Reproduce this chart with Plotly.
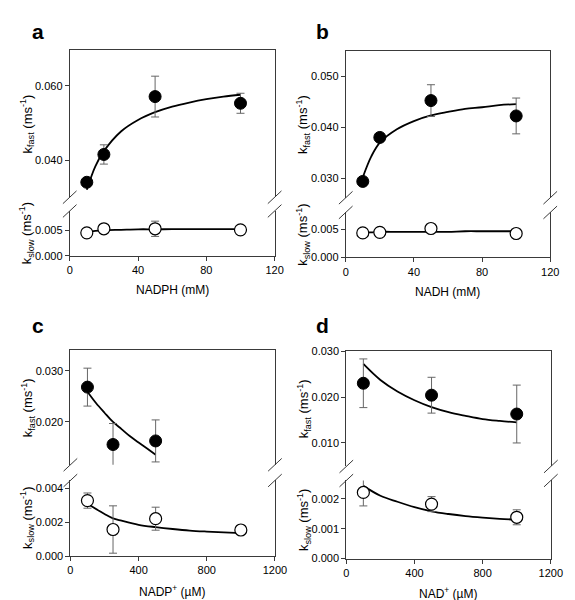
import plotly.graph_objects as go

W, H = 575, 600

# ---------------- data ----------------
# Panel a: NADPH (mM)
a_x = [10, 20, 50, 100]
a_fast = [0.0340, 0.0415, 0.0571, 0.0553]
a_fast_err = [0.0000, 0.0026, 0.0055, 0.0027]
a_slow = [0.0045, 0.0053, 0.0053, 0.0051]
a_slow_err = [0.0000, 0.0000, 0.0015, 0.0000]
a_fit_x = [10, 15, 20, 30, 40, 50, 60, 70, 80, 90, 100]
a_fit_fast = [0.0320, 0.0383, 0.0424, 0.0477, 0.0508, 0.0529, 0.0544, 0.0555, 0.0564, 0.0571, 0.0576]
a_fit_slow = [0.0047, 0.0049, 0.0050, 0.0051, 0.0052, 0.0052, 0.00522, 0.00523, 0.00524, 0.00525, 0.00525]

# Panel b: NADH (mM)
b_x = [10, 20, 50, 100]
b_fast = [0.0294, 0.0380, 0.0452, 0.0422]
b_fast_err = [0.0000, 0.0008, 0.0031, 0.0035]
b_slow = [0.0044, 0.0045, 0.0052, 0.0043]
b_slow_err = [0.0, 0.0, 0.0, 0.0]
b_fit_x = [10, 15, 20, 30, 40, 50, 60, 70, 80, 90, 100]
b_fit_fast = [0.0302, 0.0343, 0.0370, 0.0396, 0.0412, 0.0423, 0.0430, 0.0436, 0.0439, 0.0443, 0.0445]
b_fit_slow = [0.0045, 0.0045, 0.0046, 0.0046, 0.0046, 0.0046, 0.0046, 0.0047, 0.0047, 0.0047, 0.0047]

# Panel c: NADP+ (uM)
c_x_fast = [100, 250, 500]
c_fast = [0.0268, 0.0156, 0.0163]
c_fast_err = [0.0037, 0.0041, 0.0041]
c_x_slow = [100, 250, 500, 1000]
c_slow = [0.00329, 0.00158, 0.00222, 0.00155]
c_slow_err = [0.00045, 0.00140, 0.00068, 0.00028]
c_fit_x_fast = [100, 150, 200, 250, 300, 350, 400, 450, 500]
c_fit_fast = [0.0259, 0.0237, 0.0218, 0.0200, 0.0186, 0.0172, 0.0160, 0.0148, 0.0136]
c_fit_x_slow = [100, 200, 250, 300, 400, 500, 600, 700, 800, 900, 1000]
c_fit_slow = [0.00310, 0.00250, 0.00224, 0.00210, 0.00186, 0.00172, 0.00161, 0.00152, 0.00146, 0.00141, 0.00137]

# Panel d: NAD+ (uM)
d_x = [100, 500, 1000]
d_fast = [0.0230, 0.0204, 0.0163]
d_fast_err = [0.0053, 0.0039, 0.0063]
d_slow = [0.00221, 0.00182, 0.00138]
d_slow_err = [0.00045, 0.00025, 0.00025]
d_fit_x = [100, 200, 300, 400, 500, 600, 700, 800, 900, 1000]
d_fit_fast = [0.0272, 0.0237, 0.0212, 0.0193, 0.0178, 0.0167, 0.0159, 0.0152, 0.0148, 0.0145]
d_fit_slow = [0.00243, 0.00210, 0.00190, 0.00172, 0.00158, 0.00149, 0.00142, 0.00137, 0.00133, 0.00130]

# ---------------- layout geometry (pixels) ----------------
panels = [
    dict(letter="a", left=60.3, right=270.7, top=36.7, brk1=187.0, brk2=201.0, bottom=246.7,
         up_range=[0.02996, 0.06967], lo_range=[0.0, 0.0088],
         up_ticks=[0.040, 0.060], lo_ticks=[0.000, 0.005], xr=[0, 120], xt=[0, 40, 80, 120],
         xtitle="NADPH (mM)",
         x_fast=a_x, fast=a_fast, fast_err=a_fast_err, x_slow=a_x, slow=a_slow, slow_err=a_slow_err,
         fxf=a_fit_x, ff=a_fit_fast, fxs=a_fit_x, fs=a_fit_slow),
    dict(letter="b", left=343.7, right=553.7, top=37.3, brk1=187.5, brk2=202.5, bottom=248.3,
         up_range=[0.02621, 0.05498], lo_range=[0.0, 0.00809],
         up_ticks=[0.030, 0.040, 0.050], lo_ticks=[0.000, 0.005], xr=[0, 120], xt=[0, 40, 80, 120],
         xtitle="NADH (mM)",
         x_fast=b_x, fast=b_fast, fast_err=b_fast_err, x_slow=b_x, slow=b_slow, slow_err=b_slow_err,
         fxf=b_fit_x, ff=b_fit_fast, fxs=b_fit_x, fs=b_fit_slow),
    dict(letter="c", left=61.0, right=271.0, top=343.3, brk1=460.0, brk2=476.0, bottom=553.3,
         up_range=[0.01164, 0.03396], lo_range=[0.0, 0.00448],
         up_ticks=[0.020, 0.030], lo_ticks=[0.000, 0.002, 0.004], xr=[0, 1200], xt=[0, 400, 800, 1200],
         xtitle="NADP<sup>+</sup> (µM)",
         x_fast=c_x_fast, fast=c_fast, fast_err=c_fast_err, x_slow=c_x_slow, slow=c_slow, slow_err=c_slow_err,
         fxf=c_fit_x_fast, ff=c_fit_fast, fxs=c_fit_x_slow, fs=c_fit_slow),
    dict(letter="d", left=344.3, right=554.3, top=344.0, brk1=461.7, brk2=476.0, bottom=555.7,
         up_range=[0.00488, 0.0300], lo_range=[0.0, 0.00261],
         up_ticks=[0.010, 0.020, 0.030], lo_ticks=[0.000, 0.001, 0.002], xr=[0, 1200], xt=[0, 400, 800, 1200],
         xtitle="NAD<sup>+</sup> (µM)",
         x_fast=d_x, fast=d_fast, fast_err=d_fast_err, x_slow=d_x, slow=d_slow, slow_err=d_slow_err,
         fxf=d_fit_x, ff=d_fit_fast, fxs=d_fit_x, fs=d_fit_slow),
]

def px(x):
    return x / W

def py(y):
    return 1 - y / H

FONT = "Liberation Sans, Arial, sans-serif"
AX = "#3a3a3a"
ERR = "#666666"

fig = go.Figure()
layout = dict(width=W, height=H, margin=dict(l=0, r=0, t=0, b=0),
              paper_bgcolor="white", plot_bgcolor="white", showlegend=False,
              font=dict(family=FONT, size=11, color="black"))
annotations = []
shapes = []

n = 0
for p in panels:
    n += 1
    xu, yu = n, n
    n += 1
    xl, yl = n, n
    xd = [px(p["left"]), px(p["right"])]
    for (xi, yi, dom, rng, ticks, upper) in [
        (xu, yu, [py(p["brk1"]), py(p["top"])], p["up_range"], p["up_ticks"], True),
        (xl, yl, [py(p["bottom"]), py(p["brk2"])], p["lo_range"], p["lo_ticks"], False),
    ]:
        xk = "xaxis" if xi == 1 else f"xaxis{xi}"
        yk = "yaxis" if yi == 1 else f"yaxis{yi}"
        layout[xk] = dict(domain=xd, range=p["xr"], anchor=f"y{yi}" if yi > 1 else "y",
                          showgrid=False, zeroline=False, showline=True, linecolor=AX, linewidth=1,
                          side="top" if upper else "bottom",
                          ticks="" if upper else "outside", ticklen=4, tickcolor=AX,
                          tickvals=[] if upper else p["xt"], showticklabels=not upper,
                          tickfont=dict(size=11, family=FONT, color="black"), fixedrange=True)
        layout[yk] = dict(domain=dom, range=rng, anchor=f"x{xi}" if xi > 1 else "x",
                          showgrid=False, zeroline=False, showline=True, mirror=True,
                          linecolor=AX, linewidth=1, ticks="outside", ticklen=4, tickcolor=AX,
                          tickvals=ticks, tickformat=".3f",
                          tickfont=dict(size=11, family=FONT, color="black"), fixedrange=True)

    xa_u = "x" if xu == 1 else f"x{xu}"
    ya_u = "y" if yu == 1 else f"y{yu}"
    xa_l = f"x{xl}"
    ya_l = f"y{yl}"

    fig.add_trace(go.Scatter(x=p["fxf"], y=p["ff"], mode="lines", line=dict(color="black", width=1.8, shape="spline"),
                             xaxis=xa_u, yaxis=ya_u, hoverinfo="skip"))
    fig.add_trace(go.Scatter(x=p["fxs"], y=p["fs"], mode="lines", line=dict(color="black", width=1.8, shape="spline"),
                             xaxis=xa_l, yaxis=ya_l, hoverinfo="skip"))
    fig.add_trace(go.Scatter(x=p["x_fast"], y=p["fast"], mode="markers",
                             marker=dict(color="black", size=12, line=dict(color="black", width=1)),
                             error_y=dict(type="data", array=p["fast_err"], visible=True, color=ERR, thickness=1, width=4),
                             xaxis=xa_u, yaxis=ya_u))
    fig.add_trace(go.Scatter(x=p["x_slow"], y=p["slow"], mode="markers",
                             marker=dict(color="white", size=12, line=dict(color="black", width=1.2)),
                             error_y=dict(type="data", array=p["slow_err"], visible=True, color=ERR, thickness=1, width=4),
                             xaxis=xa_l, yaxis=ya_l))

    for xe in (p["left"], p["right"]):
        for ye in (p["brk1"], p["brk2"]):
            shapes.append(dict(type="line", xref="paper", yref="paper",
                               x0=px(xe - 7), y0=py(ye + 6.5), x1=px(xe + 7), y1=py(ye - 6.5),
                               line=dict(color=AX, width=1)))

    xt_px = p["left"] - 44
    annotations.append(dict(text="k<sub>fast</sub> (ms<sup>-1</sup>)", x=px(xt_px), y=py((p["top"] + p["brk1"]) / 2),
                            xref="paper", yref="paper", showarrow=False, textangle=-90,
                            xanchor="center", yanchor="middle", font=dict(size=13, family=FONT)))
    annotations.append(dict(text="k<sub>slow</sub> (ms<sup>-1</sup>)", x=px(xt_px), y=py((p["brk2"] + p["bottom"]) / 2),
                            xref="paper", yref="paper", showarrow=False, textangle=-90,
                            xanchor="center", yanchor="middle", font=dict(size=13, family=FONT)))
    annotations.append(dict(text=p["xtitle"], x=px((p["left"] + p["right"]) / 2), y=py(p["bottom"] + 35),
                            xref="paper", yref="paper", showarrow=False, xanchor="center", yanchor="middle",
                            font=dict(size=12, family=FONT)))
    lx = 19 if p["letter"] in "ac" else 311
    ly = 18 if p["letter"] in "ab" else 318
    annotations.append(dict(text=f"<b>{p['letter']}</b>", x=px(lx), y=py(ly), xref="paper", yref="paper",
                            showarrow=False, xanchor="left", yanchor="middle",
                            font=dict(size=21, family=FONT, color="black")))

layout["annotations"] = annotations
layout["shapes"] = shapes
fig.update_layout(**layout)
fig.write_html("out.html")
